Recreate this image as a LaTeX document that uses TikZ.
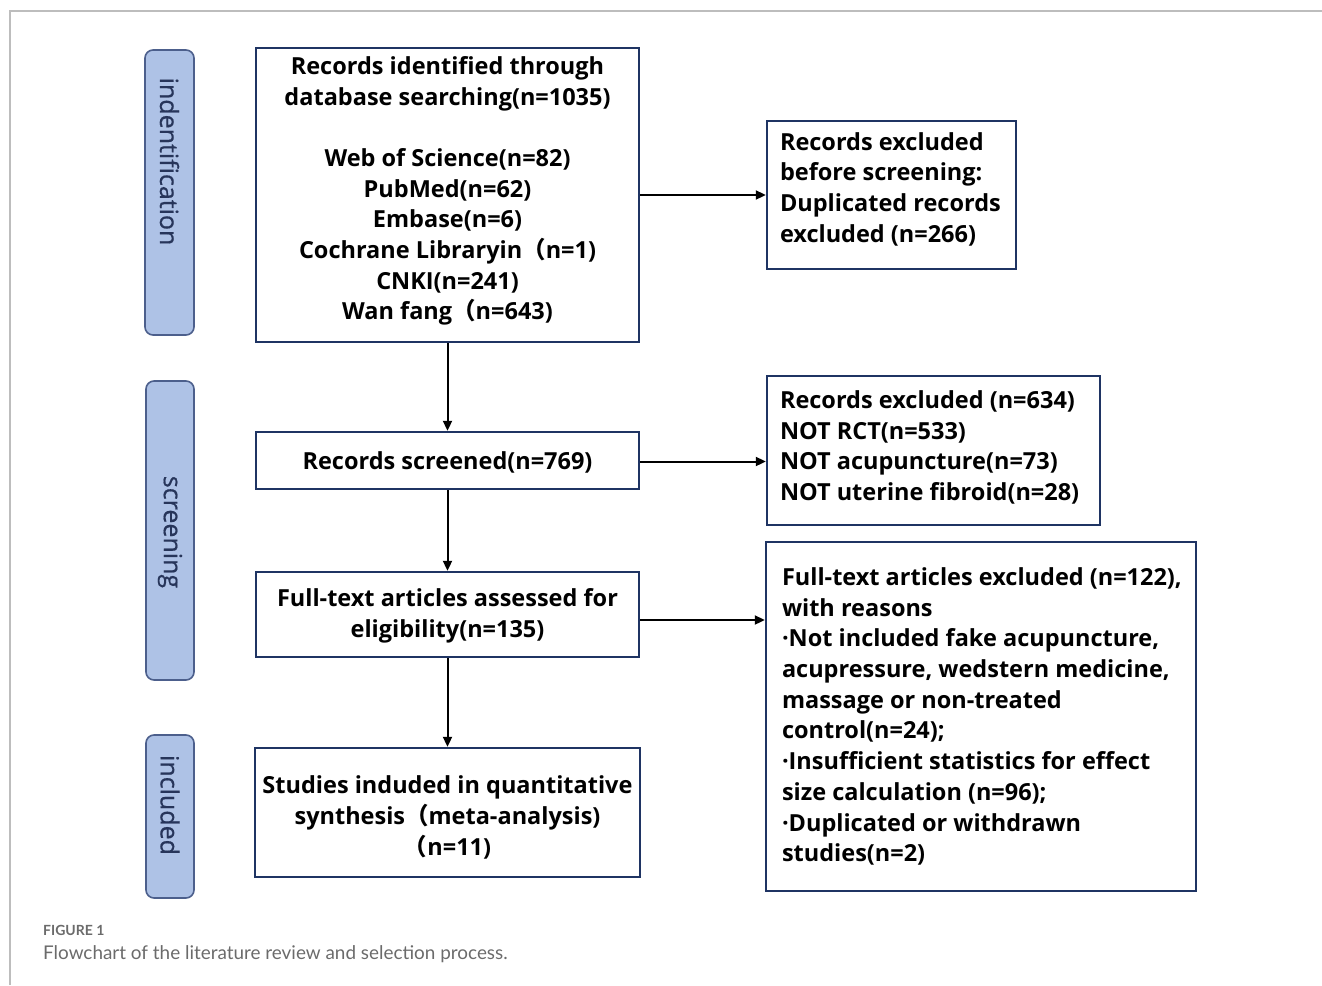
\documentclass[tikz,border=0pt]{standalone}
\usepackage{fontspec}
\setmainfont{Open Sans}
\newfontfamily\cjk{Noto Sans CJK SC}
\newfontfamily\capfont{Lato}
\newfontfamily\pillfont[FakeBold=0.6]{Open Sans}
\usetikzlibrary{arrows.meta,calc}
\definecolor{boxnavy}{HTML}{1F3463}
\definecolor{pillfill}{HTML}{AEC2E6}
\definecolor{pillline}{HTML}{4C5F8C}
\definecolor{pilltext}{HTML}{27355A}
\definecolor{framegray}{HTML}{BDBDBD}
\definecolor{capgray}{HTML}{6B6B6B}
\newcommand{\fwl}{{\cjk\bfseries （}}
\tikzset{
  flowbox/.style={draw=boxnavy, line width=2.4pt, rectangle, inner sep=0pt},
  boxtext/.style={inner sep=0pt, font=\bfseries\fontsize{23.5}{30.7}\selectfont, align=center},
  sidetext/.style={boxtext, align=left},
  pill/.style={draw=pillline, fill=pillfill, line width=1.6pt, rounded corners=8pt,
    rectangle, inner sep=0pt},
  pilllabel/.style={inner sep=0pt, text=pilltext, rotate=-90, font=\pillfont\fontsize{25}{28}\selectfont},
  flowarrow/.style={draw=black, line width=2pt, -{Triangle[length=10pt,width=9pt]}},
  frameline/.style={draw=framegray, line width=1.5pt}
}
\begin{document}
\begin{tikzpicture}[x=1pt,y=-1pt]
\useasboundingbox (0,0) rectangle (1322,985);
% frame
\coordinate (ftl) at (10,11);
\coordinate (ftr) at (1322,11);
\coordinate (fbl) at (10,985);
\draw[frameline] (fbl) -- (ftl) -- (ftr);

% phase pills
\node[pill, minimum width=49pt, minimum height=285pt] (pident) at (169.5,192.5) {};
\node[pill, minimum width=48pt, minimum height=299pt] (pscreen) at (170,530.5) {};
\node[pill, minimum width=48pt, minimum height=163pt] (pincl) at (170,816.5) {};
\node[pilllabel] (lident) at ([yshift=31pt]pident.center) {indentification};
\node[pilllabel] (lscreen) at ([yshift=-1.5pt]pscreen.center) {screening};
\node[pilllabel] (lincl) at ([yshift=11.5pt]pincl.center) {included};

% main column boxes
\node[flowbox, minimum width=383pt, minimum height=294pt] (ident) at (447.5,195) {};
\node[flowbox, minimum width=383pt, minimum height=57pt] (screened) at (447.5,460.5) {};
\node[flowbox, minimum width=383pt, minimum height=85pt] (fulltext) at (447.5,614.5) {};
\node[flowbox, minimum width=385pt, minimum height=129pt] (incl) at (447.5,812.5) {};

% exclusion boxes
\node[flowbox, minimum width=249pt, minimum height=148pt] (exc1) at (891.5,195) {};
\node[flowbox, minimum width=333pt, minimum height=149pt] (exc2) at (933.5,450.5) {};
\node[flowbox, minimum width=430pt, minimum height=349pt] (exc3) at (981,716.5) {};

% texts
\node[boxtext] (tident) at ([yshift=4pt]ident.center) {Records identified through\\database searching(n=1035)\\[30.7pt]Web of Science(n=82)\\PubMed(n=62)\\Embase(n=6)\\Cochrane Libraryin\fwl n=1)\\CNKI(n=241)\\Wan fang\fwl n=643)};
\node[boxtext] (tscreened) at ([yshift=-2pt]screened.center) {Records screened(n=769)};
\node[boxtext] (tfulltext) at ([yshift=-1pt]fulltext.center) {Full-text articles assessed for\\eligibility(n=135)};
\node[boxtext] (tincl) at ([yshift=-5pt]incl.center) {Studies induded in quantitative\\synthesis\fwl meta-analysis)\\\fwl n=11)};
\node[sidetext, anchor=west] (texc1) at ([xshift=14pt,yshift=6pt]exc1.west) {Records excluded\\before screening:\\Duplicated records\\excluded (n=266)};
\node[sidetext, anchor=west] (texc2) at ([xshift=14pt,yshift=3pt]exc2.west) {Records excluded (n=634)\\NOT RCT(n=533)\\NOT acupuncture(n=73)\\NOT uterine fibroid(n=28)};
\node[sidetext, anchor=west] (texc3) at ([xshift=17pt,yshift=0pt]exc3.west) {Full-text articles excluded (n=122),\\with reasons\\·Not included fake acupuncture,\\acupressure, wedstern medicine,\\massage or non-treated\\control(n=24);\\·Insufficient statistics for effect\\size calculation (n=96);\\·Duplicated or withdrawn\\studies(n=2)};

% arrows
\draw[flowarrow] (ident.south) -- (screened.north);
\draw[flowarrow] (screened.south) -- (fulltext.north);
\draw[flowarrow] (fulltext.south) -- (incl.north);
\draw[flowarrow] (ident.east) -- (exc1.west);
\draw[flowarrow] ([yshift=-1pt]screened.east) -- ([yshift=-1pt]screened.east -| exc2.west);
\draw[flowarrow] ([yshift=-5.5pt]fulltext.east) -- ([yshift=-5.5pt]fulltext.east -| exc3.west);

% caption
\node[anchor=west, inner sep=0pt, text=capgray, font=\capfont\bfseries\fontsize{14}{16}\selectfont] (capnum) at (43,930) {FIGURE 1};
\node[anchor=west, inner sep=0pt, text=capgray, font=\capfont\fontsize{18.9}{22}\selectfont] (captext) at (43,954.5) {Flowchart of the literature review and selection process.};
\end{tikzpicture}
\end{document}
